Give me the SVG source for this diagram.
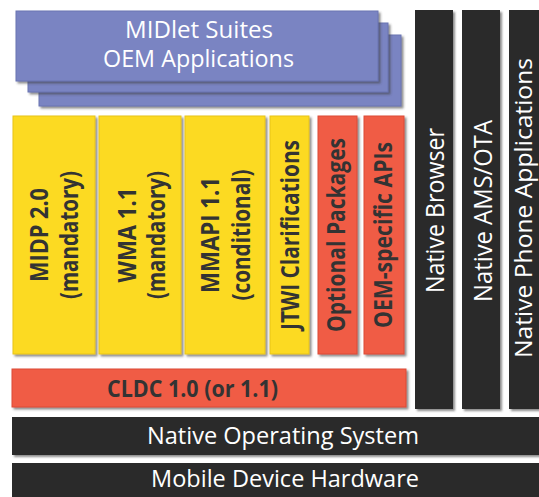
<svg xmlns="http://www.w3.org/2000/svg" width="539" height="497" viewBox="0 0 539 497">
<defs>
<filter id="sh" x="-10%" y="-10%" width="130%" height="130%">
<feDropShadow dx="2" dy="2" stdDeviation="1.2" flood-color="#404040" flood-opacity="0.6"/>
</filter>
</defs>
<style>
.p{fill:#7A84C2;filter:url(#sh);stroke:#6A74B2;stroke-width:1}
.y{fill:#FCDA22;filter:url(#sh);stroke:#E8C418;stroke-width:1}
.r{fill:#F05B44;filter:url(#sh);stroke:#DC4C38;stroke-width:1}
.k{fill:#2A2A2A;filter:url(#sh)}
text{font-family:"Open Sans","Noto Sans","Liberation Sans",sans-serif;font-size:22px;text-anchor:middle}
.w{fill:#FFFFFF}
.v{font-size:25px}
.d{fill:#333333;font-weight:bold;font-size:25px}
.c{font-size:23px}
</style>
<rect width="539" height="497" fill="#FFFFFF"/>
<g id="midlet">
<rect class="p" x="39" y="35" width="362" height="71"/>
<rect class="p" x="28" y="23" width="360" height="69"/>
<rect class="p" x="16" y="11" width="362" height="70"/>
<text class="w c" x="199" y="38" textLength="148" lengthAdjust="spacingAndGlyphs">MIDlet Suites</text>
<text class="w c" x="198.5" y="67" textLength="191" lengthAdjust="spacingAndGlyphs">OEM Applications</text>
</g>
<g id="midp">
<rect class="y" x="13" y="116" width="82" height="238"/>
<text class="d" transform="translate(54,235) rotate(-90)"><tspan x="0" y="-6" textLength="94" lengthAdjust="spacingAndGlyphs">MIDP 2.0</tspan><tspan x="0" y="24" textLength="128" lengthAdjust="spacingAndGlyphs">(mandatory)</tspan></text>
</g>
<g id="wma">
<rect class="y" x="99" y="116" width="82" height="238"/>
<text class="d" transform="translate(140,235) rotate(-90)"><tspan x="0" y="-4" textLength="95" lengthAdjust="spacingAndGlyphs">WMA 1.1</tspan><tspan x="0" y="25" textLength="128" lengthAdjust="spacingAndGlyphs">(mandatory)</tspan></text>
</g>
<g id="mmapi">
<rect class="y" x="185" y="116" width="80" height="238"/>
<text class="d" transform="translate(225,235) rotate(-90)"><tspan x="0" y="-6" textLength="116" lengthAdjust="spacingAndGlyphs">MMAPI 1.1</tspan><tspan x="0" y="25" textLength="131" lengthAdjust="spacingAndGlyphs">(conditional)</tspan></text>
</g>
<g id="jtwi">
<rect class="y" x="270" y="116" width="39" height="238"/>
<text class="d" transform="translate(299,235) rotate(-90)" textLength="190" lengthAdjust="spacingAndGlyphs">JTWI Clarifications</text>
</g>
<g id="optional">
<rect class="r" x="318" y="116" width="39" height="238"/>
<text class="d" transform="translate(345,235) rotate(-90)" textLength="194" lengthAdjust="spacingAndGlyphs">Optional Packages</text>
</g>
<g id="oemapis">
<rect class="r" x="364" y="116" width="40" height="238"/>
<text class="d" transform="translate(392,235) rotate(-90)" textLength="186" lengthAdjust="spacingAndGlyphs">OEM-specific APIs</text>
</g>
<g id="cldc">
<rect class="r" x="12" y="369" width="394" height="38"/>
<text class="d" x="192.5" y="397" style="font-size:24px" textLength="171" lengthAdjust="spacingAndGlyphs">CLDC 1.0 (or 1.1)</text>
</g>
<g id="browser">
<rect class="k" x="415" y="10" width="38" height="399"/>
<text class="w v" transform="translate(444,210.5) rotate(-90)" textLength="165" lengthAdjust="spacingAndGlyphs">Native Browser</text>
</g>
<g id="ams">
<rect class="k" x="462" y="10" width="38" height="399"/>
<text class="w v" transform="translate(492,211) rotate(-90)" textLength="182" lengthAdjust="spacingAndGlyphs">Native AMS/OTA</text>
</g>
<g id="phoneapps">
<rect class="k" x="509" y="10" width="40" height="399"/>
<text class="w" transform="translate(532,208) rotate(-90)" style="font-size:23px" textLength="300" lengthAdjust="spacingAndGlyphs">Native Phone Applications</text>
</g>
<g id="os">
<rect class="k" x="12" y="417" width="537" height="38"/>
<text class="w c" x="283" y="444" textLength="272" lengthAdjust="spacingAndGlyphs">Native Operating System</text>
</g>
<g id="hardware">
<rect class="k" x="12" y="463" width="537" height="40"/>
<text class="w c" x="285" y="487" textLength="268" lengthAdjust="spacingAndGlyphs">Mobile Device Hardware</text>
</g>
<g id="connectors"/>
</svg>
